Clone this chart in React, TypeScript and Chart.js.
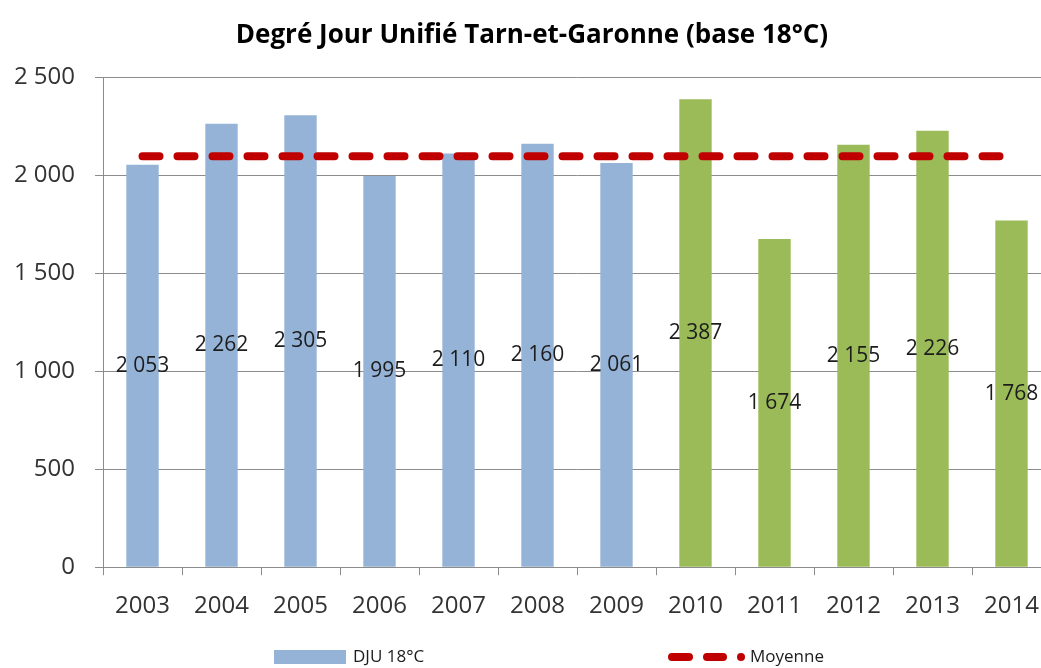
import React, { useEffect, useRef } from "react";
import { Chart, registerables } from "chart.js";

Chart.register(...registerables);

const TITLE = "Degré Jour Unifié Tarn-et-Garonne (base 18°C)";
const YEARS = ["2003", "2004", "2005", "2006", "2007", "2008", "2009", "2010", "2011", "2012", "2013", "2014"];
const DJU = [2053, 2262, 2305, 1995, 2110, 2160, 2061, 2387, 1674, 2155, 2226, 1768];
const MOYENNE = [2096, 2096, 2096, 2096, 2096, 2096, 2096, 2096, 2096, 2096, 2096, 2096];
const Y_TICKS = [0, 500, 1000, 1500, 2000, 2500];
const SERIES_NAMES = ["DJU 18°C", "Moyenne"];

const BLUE = "#95B3D7";
const GREEN = "#9BBB59";
const RED = "#C00000";
const GRID = "#8c8c8c";
const FONT = "'Open Sans', 'DejaVu Sans', sans-serif";

const fmt = (n: number) =>
  n >= 1000 ? Math.floor(n / 1000) + " " + String(n % 1000).padStart(3, "0") : String(n);

const BAR_COLORS = YEARS.map((y) => (Number(y) < 2010 ? BLUE : GREEN));

const decorPlugin = {
  id: "decor",
  afterDatasetsDraw(chart: any) {
    const ctx = chart.ctx;
    const meta = chart.getDatasetMeta(0);
    ctx.save();
    ctx.font = `21px ${FONT}`;
    ctx.fillStyle = "#1c1c1c";
    ctx.textAlign = "center";
    ctx.textBaseline = "middle";
    meta.data.forEach((el: any, i: number) => {
      const y = (el.y + el.base) / 2;
      ctx.fillText(fmt(DJU[i]), el.x, y);
    });
    ctx.restore();
  },
  afterDraw(chart: any) {
    const ctx = chart.ctx;
    ctx.save();
    ctx.font = `bold 26px ${FONT}`;
    ctx.fillStyle = "#000";
    ctx.textAlign = "center";
    ctx.textBaseline = "middle";
    ctx.fillText(TITLE, 532, 36);
    const ly = 657;
    ctx.fillStyle = BLUE;
    ctx.fillRect(274, 650, 72, 14);
    ctx.font = `17px ${FONT}`;
    ctx.fillStyle = "#1c1c1c";
    ctx.textAlign = "left";
    ctx.fillText(SERIES_NAMES[0], 353, ly);
    ctx.strokeStyle = RED;
    ctx.lineWidth = 8;
    ctx.lineCap = "round";
    ctx.beginPath();
    ctx.moveTo(672, ly);
    ctx.lineTo(689, ly);
    ctx.moveTo(707, ly);
    ctx.lineTo(723, ly);
    ctx.stroke();
    ctx.fillStyle = RED;
    ctx.beginPath();
    ctx.arc(741, ly, 4, 0, Math.PI * 2);
    ctx.fill();
    ctx.fillStyle = "#1c1c1c";
    ctx.fillText(SERIES_NAMES[1], 750, ly);
    ctx.restore();
  },
};

export default function App() {
  const ref = useRef<HTMLCanvasElement>(null);
  useEffect(() => {
    if (!ref.current) return;
    const chart = new Chart(ref.current, {
      type: "bar",
      data: {
        labels: YEARS,
        datasets: [
          {
            type: "bar",
            label: SERIES_NAMES[0],
            data: DJU,
            backgroundColor: BAR_COLORS,
            barPercentage: 0.41,
            categoryPercentage: 1,
            order: 1,
          } as any,
          {
            type: "line",
            label: SERIES_NAMES[1],
            data: MOYENNE,
            borderColor: RED,
            borderWidth: 8,
            borderDash: [17, 18],
            borderCapStyle: "round",
            pointRadius: 0,
            fill: false,
            order: 0,
          } as any,
        ],
      },
      options: {
        responsive: false,
        animation: false,
        layout: { padding: { top: 77, bottom: 30, left: 0, right: 9 } },
        plugins: {
          legend: { display: false },
          title: { display: false },
          tooltip: { enabled: false },
        },
        scales: {
          x: {
            offset: true,
            grid: {
              offset: true,
              drawOnChartArea: false,
              drawTicks: true,
              tickLength: 8,
              color: GRID,
            },
            border: { display: true, color: GRID },
            ticks: {
              font: { family: FONT, size: 24 },
              color: "#333",
              padding: 17,
              maxRotation: 0,
            },
          },
          y: {
            min: 0,
            max: 2500,
            afterBuildTicks: (scale: any) => {
              scale.ticks = Y_TICKS.map((v) => ({ value: v }));
            },
            afterFit: (scale: any) => {
              scale.width = 103;
            },
            grid: { color: GRID, drawTicks: true, tickLength: 8 },
            border: { display: true, color: GRID },
            ticks: {
              font: { family: FONT, size: 24 },
              color: "#333",
              padding: 20,
              callback: (v: any) => fmt(Number(v)),
            },
          },
        },
      },
      plugins: [decorPlugin],
    });
    return () => chart.destroy();
  }, []);
  return (
    <div
      style={{
        position: "fixed",
        left: 0,
        top: 0,
        width: 1041,
        height: 668,
        overflow: "hidden",
        background: "#fff",
      }}
    >
      <canvas ref={ref} width={1060} height={668} style={{ width: 1060, height: 668 }} />
    </div>
  );
}
